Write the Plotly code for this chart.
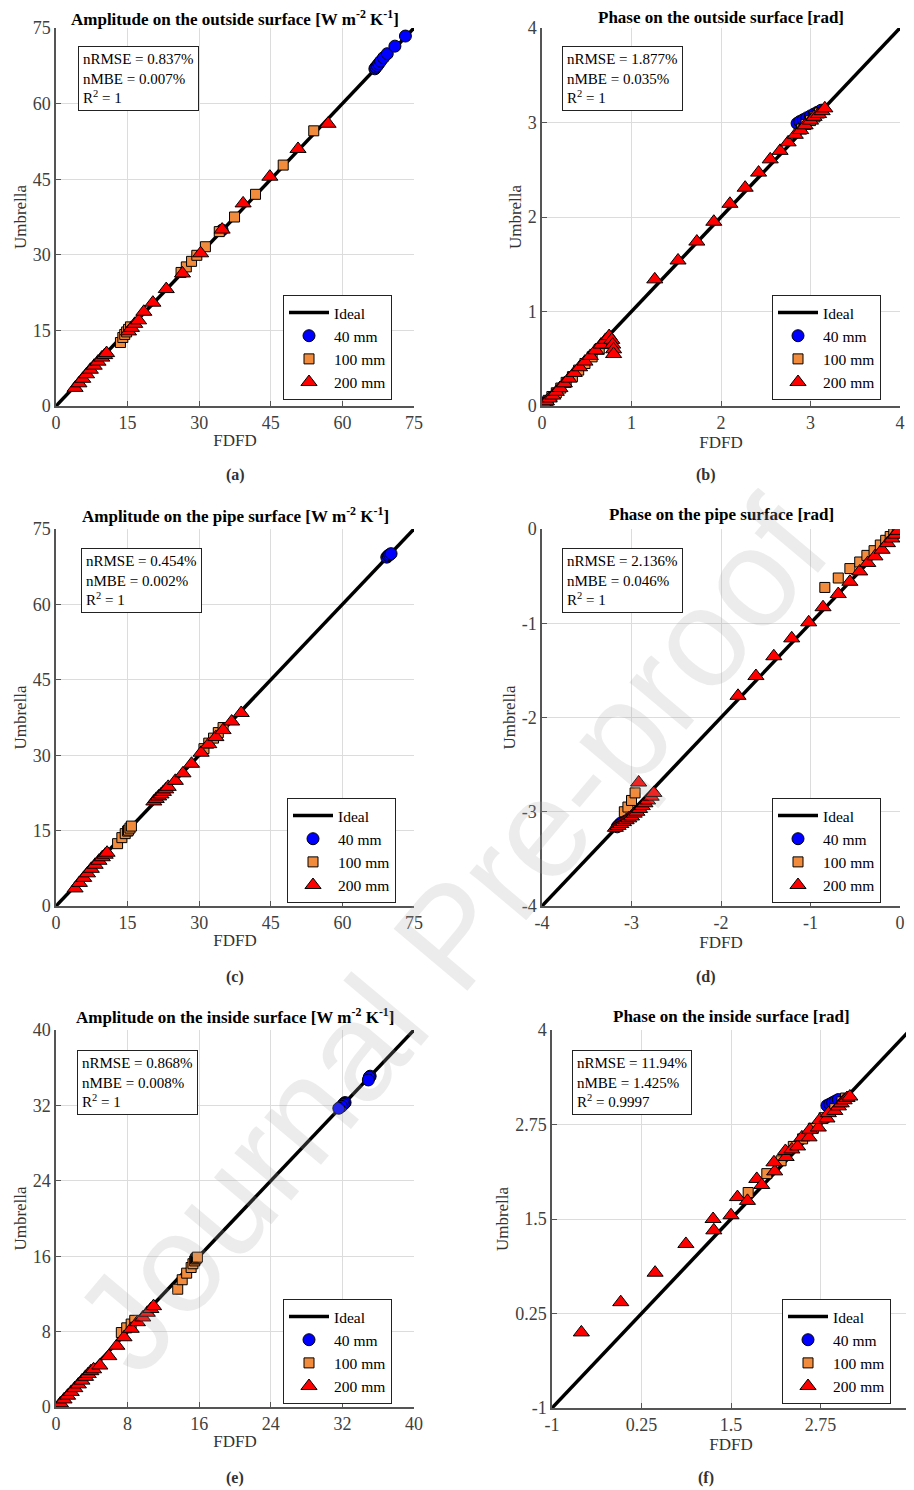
import plotly.graph_objects as go

# ---------------- data ----------------
# (a) Amplitude on the outside surface
a40_x = [34.8, 66.8, 67.0, 67.3, 67.6, 68.0, 68.6, 69.4, 71.0, 73.2]
a40_y = [34.9, 66.9, 67.2, 67.5, 67.9, 68.4, 69.1, 69.9, 71.4, 73.4]
a100_x = [13.5, 14.0, 14.4, 14.8, 15.2, 15.6, 26.2, 27.3, 28.4, 29.5, 31.3, 34.2, 37.4, 41.8, 47.6, 54.0]
a100_y = [12.6, 13.6, 14.2, 14.7, 15.2, 15.7, 26.5, 27.6, 28.7, 29.9, 31.6, 34.6, 37.5, 42.0, 47.8, 54.6]
a200_x = [4.0, 4.8, 5.6, 6.4, 7.2, 8.0, 8.8, 9.6, 10.2, 10.6, 15.2, 15.8, 16.5, 17.3, 18.4, 20.3, 23.1, 26.5, 30.3, 34.8, 39.2, 44.8, 50.7, 57.0]
a200_y = [3.6, 4.5, 5.4, 6.3, 7.2, 8.0, 8.8, 9.6, 10.1, 10.5, 14.8, 15.5, 16.3, 17.0, 18.7, 20.5, 23.2, 26.3, 30.3, 35.0, 40.2, 45.5, 51.0, 56.0]

# (b) Phase on the outside surface
b40_x = [0.01, 0.02, 0.03, 0.05, 2.85, 2.88, 2.92, 2.96, 3.00, 3.04, 3.08, 3.12]
b40_y = [0.01, 0.02, 0.03, 0.05, 2.99, 3.01, 3.03, 3.05, 3.07, 3.09, 3.11, 3.13]
b100_x = [0.03, 0.07, 0.11, 0.16, 0.21, 0.27, 0.34, 0.41, 0.48, 0.56, 0.64, 0.71, 2.90, 2.95, 3.00, 3.05, 3.10]
b100_y = [0.02, 0.06, 0.10, 0.14, 0.19, 0.25, 0.31, 0.38, 0.45, 0.52, 0.60, 0.66, 2.93, 2.98, 3.02, 3.06, 3.10]
b200_x = [0.02, 0.05, 0.08, 0.12, 0.16, 0.20, 0.25, 0.30, 0.36, 0.42, 0.48, 0.54, 0.60, 0.66, 0.71, 0.75, 0.78, 0.79, 0.80, 0.80,
          1.26, 1.52, 1.73, 1.92, 2.10, 2.27, 2.42, 2.55, 2.66, 2.75, 2.83, 2.89, 2.94, 3.00, 3.04, 3.09, 3.13, 3.16]
b200_y = [0.02, 0.05, 0.08, 0.11, 0.15, 0.19, 0.24, 0.29, 0.35, 0.41, 0.47, 0.53, 0.59, 0.65, 0.70, 0.74, 0.70, 0.65, 0.60, 0.55,
          1.34, 1.54, 1.74, 1.95, 2.14, 2.31, 2.47, 2.61, 2.70, 2.79, 2.87, 2.92, 2.97, 3.02, 3.06, 3.09, 3.12, 3.15]

# (c) Amplitude on the pipe surface
c40_x = [69.3, 69.6, 69.9, 70.2]
c40_y = [69.4, 69.7, 69.9, 70.1]
c100_x = [12.9, 13.8, 14.5, 15.0, 15.2, 15.5, 15.8, 31.0, 32.0, 33.0, 34.0, 35.0]
c100_y = [12.4, 13.6, 14.4, 14.9, 15.1, 15.5, 15.9, 31.3, 32.4, 33.4, 34.5, 35.5]
c200_x = [4.0, 4.9, 5.8, 6.6, 7.4, 8.2, 9.0, 9.7, 10.3, 10.7, 20.5, 21.0, 21.5, 22.0, 22.5, 23.0, 23.5, 25.0, 26.6, 28.4, 30.4, 32.0, 33.5, 35.0, 36.8, 38.8]
c200_y = [3.5, 4.6, 5.6, 6.5, 7.4, 8.2, 9.0, 9.7, 10.2, 10.6, 20.8, 21.3, 21.8, 22.2, 22.7, 23.2, 23.7, 24.9, 26.4, 28.3, 30.5, 32.2, 33.6, 35.0, 36.7, 38.4]

# (d) Phase on the pipe surface
d40_x = [-3.16, -3.14, -3.12, -0.06, -0.04, -0.02]
d40_y = [-3.16, -3.14, -3.12, -0.05, -0.03, -0.01]
d100_x = [-3.08, -3.04, -3.00, -2.96, -0.84, -0.69, -0.56, -0.45, -0.37, -0.29, -0.22, -0.16, -0.11, -0.07, -0.03]
d100_y = [-3.00, -2.95, -2.88, -2.80, -0.62, -0.52, -0.42, -0.35, -0.28, -0.23, -0.17, -0.12, -0.08, -0.05, -0.02]
d200_x = [-3.18, -3.15, -3.12, -3.09, -3.06, -3.03, -3.00, -2.97, -2.94, -2.91, -2.88, -2.85, -2.82, -2.78, -2.75, -2.92,
          -1.81, -1.61, -1.41, -1.21, -1.02, -0.86, -0.69, -0.56, -0.45, -0.36, -0.28, -0.20, -0.14, -0.09, -0.05, -0.02]
d200_y = [-3.17, -3.15, -3.13, -3.11, -3.09, -3.07, -3.05, -3.02, -3.00, -2.97, -2.94, -2.91, -2.88, -2.84, -2.80, -2.69,
          -1.77, -1.56, -1.35, -1.16, -0.99, -0.83, -0.69, -0.56, -0.45, -0.36, -0.29, -0.22, -0.15, -0.10, -0.06, -0.02]

# (e) Amplitude on the inside surface
e40_x = [32.3, 32.2, 32.1, 31.9, 31.6, 35.1, 35.0, 34.9]
e40_y = [32.3, 32.2, 32.1, 31.9, 31.7, 35.1, 35.0, 34.7]
e100_x = [7.3, 7.9, 8.4, 8.8, 13.6, 14.1, 14.6, 15.1, 15.3, 15.5, 15.6, 15.7, 15.8]
e100_y = [7.9, 8.4, 8.8, 9.2, 12.5, 13.5, 14.2, 14.8, 15.2, 15.5, 15.7, 15.8, 15.9]
e200_x = [0.5, 0.9, 1.3, 1.7, 2.1, 2.5, 2.9, 3.3, 3.6, 3.9, 4.2, 4.9, 5.9, 6.8, 7.6, 8.4, 9.1, 9.7, 10.2, 10.6, 10.9]
e200_y = [0.4, 0.8, 1.2, 1.6, 2.0, 2.4, 2.8, 3.2, 3.5, 3.8, 4.0, 4.4, 5.4, 6.5, 7.4, 8.3, 9.0, 9.5, 10.0, 10.4, 10.7]

# (f) Phase on the inside surface
f40_x = [2.84, 2.88, 2.92, 2.96, 3.00]
f40_y = [3.00, 3.02, 3.04, 3.06, 3.08]
f100_x = [1.74, 2.00, 2.20, 2.37, 2.50, 2.65, 2.80, 2.95, 3.05, 3.10]
f100_y = [1.85, 2.10, 2.27, 2.46, 2.56, 2.70, 2.84, 2.96, 3.05, 3.10]
f200_x = [-0.59, -0.04, 0.44, 0.87, 1.25, 1.26, 1.50, 1.59, 1.73, 1.86, 1.93, 2.11, 2.10, 2.27, 2.26, 2.35, 2.43, 2.49, 2.59, 2.60,
          2.72, 2.74, 2.84, 2.86, 2.95, 3.00, 3.04, 3.08, 3.12, 3.16]
f200_y = [0.00, 0.40, 0.79, 1.17, 1.50, 1.35, 1.55, 1.79, 1.74, 2.03, 1.95, 2.13, 2.25, 2.32, 2.40, 2.42, 2.46, 2.58, 2.58, 2.68,
          2.71, 2.81, 2.83, 2.90, 2.93, 2.99, 3.03, 3.07, 3.10, 3.12]

titles = ["Amplitude on the outside surface [W m<sup>-2</sup> K<sup>-1</sup>]",
          "Phase on the outside surface [rad]",
          "Amplitude on the pipe surface [W m<sup>-2</sup> K<sup>-1</sup>]",
          "Phase on the pipe surface [rad]",
          "Amplitude on the inside surface [W m<sup>-2</sup> K<sup>-1</sup>]",
          "Phase on the inside surface [rad]"]
panel_labels = ["(a)", "(b)", "(c)", "(d)", "(e)", "(f)"]
nrmse = ["0.837%", "1.877%", "0.454%", "2.136%", "0.868%", "11.94%"]
nmbe = ["0.007%", "0.035%", "0.002%", "0.046%", "0.008%", "1.425%"]
r2 = ["1", "1", "1", "1", "1", "0.9997"]
axis_ranges = [[0, 75], [0, 4], [0, 75], [-4, 0], [0, 40], [-1, 4]]
tick_vals = [[0, 15, 30, 45, 60, 75], [0, 1, 2, 3, 4], [0, 15, 30, 45, 60, 75],
             [-4, -3, -2, -1, 0], [0, 8, 16, 24, 32, 40], [-1, 0.25, 1.5, 2.75, 4]]
tick_text = [["0", "15", "30", "45", "60", "75"], ["0", "1", "2", "3", "4"], ["0", "15", "30", "45", "60", "75"],
             ["-4", "-3", "-2", "-1", "0"], ["0", "8", "16", "24", "32", "40"], ["-1", "0.25", "1.5", "2.75", "4"]]
series_names = ["40 mm", "100 mm", "200 mm"]
series_data = [
    [(a40_x, a40_y), (a100_x, a100_y), (a200_x, a200_y)],
    [(b40_x, b40_y), (b100_x, b100_y), (b200_x, b200_y)],
    [(c40_x, c40_y), (c100_x, c100_y), (c200_x, c200_y)],
    [(d40_x, d40_y), (d100_x, d100_y), (d200_x, d200_y)],
    [(e40_x, e40_y), (e100_x, e100_y), (e200_x, e200_y)],
    [(f40_x, f40_y), (f100_x, f100_y), (f200_x, f200_y)],
]

# ---------------- layout geometry (pixels in the final page) ----------------
PAGE_OFF = 8           # default body margin of the html page
W, H = 906, 1482       # figure size so that it fits the 914x1490 window
rects = [(56, 414, 28, 406), (542, 900, 28, 406),
         (56, 414, 529, 906), (542, 900, 529, 906),
         (56, 414, 1030, 1407), (552, 910, 1030, 1408)]
stat_boxes = [(78, 46), (562, 46), (81, 548), (562, 548), (77, 1050), (572, 1050)]
legend_pos = [(283, 295), (772, 295), (287, 798), (772, 798), (283, 1299), (782, 1299)]
label_x = [235, 706, 235, 706, 235, 706]
label_y = [475, 475, 977, 977, 1478, 1478]
title_y = [18, 18, 515, 515, 1016, 1016]

markers = [dict(symbol="circle", size=12, color="#0000FF"),
           dict(symbol="square", size=10, color="#F28C3C"),
           dict(symbol="triangle-up", size=14, color="#FF0000")]

SERIF = "Liberation Serif"
fig = go.Figure()
annotations = []
layout = {}

def px_x(p):
    return (p - PAGE_OFF) / W

def px_y(p):
    return 1 - (p - PAGE_OFF) / H

for i in range(6):
    n = i + 1
    xa = "x" if n == 1 else f"x{n}"
    ya = "y" if n == 1 else f"y{n}"
    leg = "legend" if n == 1 else f"legend{n}"
    l, r, t, b = rects[i]
    rng = axis_ranges[i]

    fig.add_trace(go.Scatter(x=rng, y=rng, mode="lines", name="Ideal",
                             line=dict(color="black", width=3.5),
                             xaxis=xa, yaxis=ya, legend=leg))
    for k in range(3):
        sx, sy = series_data[i][k]
        mk = markers[k]
        fig.add_trace(go.Scatter(x=sx, y=sy, mode="markers", name=series_names[k],
                                 marker=dict(symbol=mk["symbol"], size=mk["size"], color=mk["color"],
                                             line=dict(color="black", width=1)),
                                 xaxis=xa, yaxis=ya, legend=leg))

    axcommon = dict(range=rng, tickvals=tick_vals[i], ticktext=tick_text[i], automargin=False,
                    showgrid=True, gridcolor="#DCDCDC", gridwidth=1.3,
                    zeroline=False, showline=True, linecolor="#555555", linewidth=1.5,
                    ticks="inside", ticklen=5, tickcolor="#555555",
                    tickfont=dict(family=SERIF, size=18, color="#404040"))
    layout["xaxis" if n == 1 else f"xaxis{n}"] = dict(
        axcommon, domain=[px_x(l), px_x(r)], anchor=ya,
        title=dict(text="FDFD", font=dict(family=SERIF, size=17, color="#333333"), standoff=2))
    layout["yaxis" if n == 1 else f"yaxis{n}"] = dict(
        axcommon, domain=[px_y(b), px_y(t)], anchor=xa,
        title=dict(text="Umbrella", font=dict(family=SERIF, size=17, color="#333333"), standoff=2))

    layout[leg] = dict(x=px_x(legend_pos[i][0]), y=px_y(legend_pos[i][1]), xanchor="left", yanchor="top",
                       bgcolor="white", bordercolor="#222222", borderwidth=1,
                       font=dict(family=SERIF, size=15.5, color="black"), tracegroupgap=0,
                       itemwidth=40)

    annotations.append(dict(text="<b>" + titles[i] + "</b>", x=px_x((l + r) / 2), y=px_y(title_y[i]),
                            xref="paper", yref="paper", xanchor="center", yanchor="middle", showarrow=False,
                            font=dict(family=SERIF, size=17, color="black")))
    annotations.append(dict(text="<b>" + panel_labels[i] + "</b>", x=px_x(label_x[i]), y=px_y(label_y[i]),
                            xref="paper", yref="paper", xanchor="center", yanchor="middle", showarrow=False,
                            font=dict(family=SERIF, size=16, color="#333333")))
    annotations.append(dict(text=f"nRMSE = {nrmse[i]}<br>nMBE = {nmbe[i]}<br>R<sup>2</sup> = {r2[i]}",
                            x=px_x(stat_boxes[i][0]), y=px_y(stat_boxes[i][1]),
                            xref="paper", yref="paper", xanchor="left", yanchor="top", align="left",
                            showarrow=False, bordercolor="#222222", borderwidth=1, borderpad=4,
                            bgcolor="white",
                            font=dict(family=SERIF, size=15, color="black")))

# watermark
annotations.append(dict(text="Journal Pre-proof", x=px_x(450), y=px_y(935), xref="paper", yref="paper",
                        showarrow=False, textangle=-50,
                        font=dict(family="Liberation Sans", size=140, color="rgba(170,170,170,0.22)")))

fig.update_layout(width=W, height=H, margin=dict(l=0, r=0, t=0, b=0),
                  paper_bgcolor="white", plot_bgcolor="white",
                  annotations=annotations, **layout)

fig.write_html("out.html")
